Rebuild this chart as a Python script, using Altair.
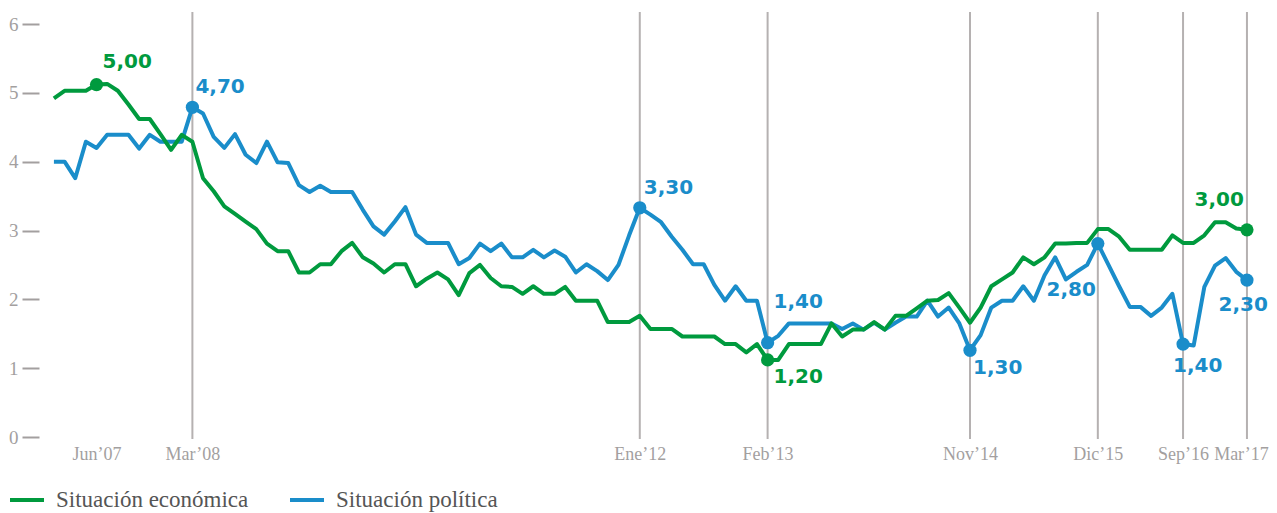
import altair as alt
import pandas as pd

ECO = "Situación económica"
POL = "Situación política"

# survey index 0..112
economica = [
    4.92, 5.03, 5.03, 5.03, 5.12, 5.13, 5.03, 4.83, 4.62, 4.62,
    4.40, 4.17, 4.39, 4.29, 3.76, 3.57, 3.35, 3.24, 3.13, 3.02,
    2.81, 2.70, 2.70, 2.39, 2.39, 2.51, 2.51, 2.70, 2.82, 2.61,
    2.52, 2.39, 2.51, 2.51, 2.19, 2.30, 2.39, 2.29, 2.06, 2.38,
    2.50, 2.31, 2.19, 2.18, 2.08, 2.19, 2.08, 2.08, 2.18, 1.98,
    1.98, 1.98, 1.67, 1.67, 1.67, 1.76, 1.57, 1.57, 1.57, 1.46,
    1.46, 1.46, 1.46, 1.35, 1.35, 1.23, 1.35, 1.12, 1.12, 1.35,
    1.35, 1.35, 1.35, 1.65, 1.46, 1.56, 1.56, 1.67, 1.56, 1.76,
    1.76, 1.87, 1.98, 1.99, 2.09, 1.88, 1.66, 1.88, 2.19, 2.29,
    2.39, 2.61, 2.51, 2.61, 2.81, 2.81, 2.82, 2.82, 3.02, 3.02,
    2.91, 2.72, 2.72, 2.72, 2.72, 2.93, 2.82, 2.82, 2.93, 3.12,
    3.12, 3.03, 3.01,
]
politica = [
    4.00, 4.00, 3.76, 4.29, 4.20, 4.39, 4.39, 4.39, 4.19, 4.39,
    4.29, 4.29, 4.29, 4.79, 4.70, 4.36, 4.20, 4.40, 4.10, 3.98,
    4.29, 3.99, 3.98, 3.66, 3.56, 3.65, 3.56, 3.56, 3.56, 3.30,
    3.06, 2.94, 3.13, 3.34, 2.94, 2.82, 2.82, 2.82, 2.51, 2.60,
    2.81, 2.70, 2.81, 2.61, 2.61, 2.72, 2.61, 2.71, 2.62, 2.39,
    2.51, 2.41, 2.28, 2.50, 2.93, 3.33, 3.23, 3.12, 2.91, 2.72,
    2.51, 2.51, 2.21, 1.98, 2.19, 1.98, 1.98, 1.37, 1.47, 1.65,
    1.65, 1.65, 1.65, 1.65, 1.57, 1.65, 1.56, 1.66, 1.56, 1.66,
    1.75, 1.75, 1.98, 1.75, 1.88, 1.65, 1.26, 1.48, 1.88, 1.98,
    1.98, 2.19, 1.98, 2.35, 2.61, 2.29, 2.40, 2.50, 2.81, 2.50,
    2.19, 1.89, 1.89, 1.76, 1.88, 2.08, 1.35, 1.33, 2.18, 2.49,
    2.60, 2.40, 2.28,
]

tick_index = [4, 13, 55, 67, 86, 98, 106, 112]
tick_labels = ["Jun’07", "Mar’08", "Ene’12", "Feb’13", "Nov’14", "Dic’15", "Sep’16", "Mar’17"]
marked_dates = [13, 55, 67, 86, 98, 106, 112]

ann_series = [ECO, POL, POL, POL, ECO, POL, POL, POL, ECO, POL]
ann_index = [4, 13, 55, 67, 67, 86, 98, 106, 112, 112]
ann_text = ["5,00", "4,70", "3,30", "1,40", "1,20", "1,30", "2,80", "1,40", "3,00", "2,30"]

# label placement style: (align, dx, dy)
ann_style = [
    ("left", 6, -23), ("left", 3, -20), ("left", 4, -20), ("left", 6, -41),
    ("left", 6, 17), ("left", 3, 18), ("right", -2, 46), ("left", -10, 22),
    ("right", -3, -30), ("right", 21, 25),
]

GREEN = "#009a3e"
BLUE = "#1a8dca"
AXIS_GRAY = "#a39f9f"
RULE_GRAY = "#b5b1b1"

df = pd.DataFrame(
    [{"i": k, "v": v, "serie": ECO} for k, v in enumerate(economica)]
    + [{"i": k, "v": v, "serie": POL} for k, v in enumerate(politica)]
)
series_map = {ECO: economica, POL: politica}
ann_df = pd.DataFrame({
    "i": ann_index,
    "v": [series_map[s][k] for s, k in zip(ann_series, ann_index)],
    "serie": ann_series,
    "label": ann_text,
})

label_expr = "''"
for idx, lab in reversed(list(zip(tick_index, tick_labels))):
    label_expr = f"datum.value == {idx} ? '{lab}' : {label_expr}"

x_axis = alt.Axis(
    values=tick_index, labelExpr=label_expr, title=None, domain=False, ticks=False,
    grid=False, labelPadding=8, labelFont="Liberation Serif", labelFontSize=18,
    labelColor=AXIS_GRAY, labelFlush=False, labelOverlap=False,
    labelOffset=alt.condition(f"datum.value == {tick_index[-1]}", alt.value(-6), alt.value(0)),
)
y_axis = alt.Axis(
    values=[0, 1, 2, 3, 4, 5, 6], format="d", title=None, domain=False, grid=False,
    tickSize=17, tickWidth=2, tickColor=AXIS_GRAY, labelPadding=4,
    labelFont="Liberation Serif", labelFontSize=19, labelColor=AXIS_GRAY,
)
x_scale = alt.Scale(domain=[-1.4, 113.6], nice=False, zero=False)
y_scale = alt.Scale(domain=[0, 6], nice=False, zero=True)
color_scale = alt.Scale(domain=[ECO, POL], range=[GREEN, BLUE])

x_enc = alt.X("i:Q", scale=x_scale, axis=x_axis)
y_enc = alt.Y("v:Q", scale=y_scale, axis=y_axis)
legend = alt.Legend(
    title=None, orient="none", legendX=-31, legendY=457, direction="horizontal",
    symbolType="stroke", symbolSize=1156, symbolStrokeWidth=4, labelFont="Liberation Serif",
    labelFontSize=23, labelColor="#555555", labelOffset=10, columnPadding=33, padding=0,
    labelLimit=600,
)
color_enc = alt.Color("serie:N", scale=color_scale, legend=legend)

rules = alt.Chart(pd.DataFrame({"i": marked_dates})).mark_rule(
    color=RULE_GRAY, strokeWidth=2
).encode(x=x_enc, y=alt.value(-12), y2=alt.value(415))

line_pol = alt.Chart(df).transform_filter(alt.datum.serie == POL).mark_line(
    strokeWidth=4, strokeJoin="round"
).encode(x=x_enc, y=y_enc, color=color_enc)

line_eco = alt.Chart(df).transform_filter(alt.datum.serie == ECO).mark_line(
    strokeWidth=4, strokeJoin="round"
).encode(x=x_enc, y=y_enc, color=color_enc)

dots = alt.Chart(ann_df).mark_circle(size=175, opacity=1).encode(
    x=x_enc, y=y_enc, color=color_enc
)

texts = []
for k, (align, dx, dy) in enumerate(ann_style):
    texts.append(
        alt.Chart(ann_df.iloc[[k]]).mark_text(
            align=align, baseline="middle", dx=dx, dy=dy,
            font="DejaVu Sans", fontWeight="bold", fontSize=20,
        ).encode(x=x_enc, y=y_enc, text="label:N", color=color_enc)
    )

chart = alt.layer(rules, line_pol, line_eco, dots, *texts).properties(
    width=1225, height=413,
    padding={"left": 31, "top": 16, "right": 5, "bottom": 76},
    autosize=alt.AutoSizeParams(type="none"),
).configure_view(stroke=None)

chart.save("out.html", embed_options={"renderer": "svg", "actions": False})
